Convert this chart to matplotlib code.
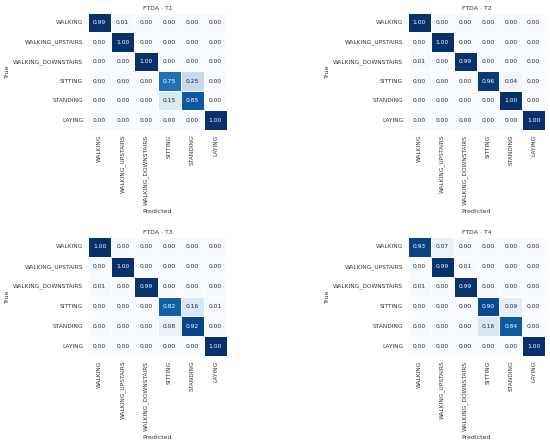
import matplotlib
matplotlib.use("Agg")
import matplotlib.pyplot as plt
import numpy as np
import seaborn as sns

labels = ["WALKING", "WALKING_UPSTAIRS", "WALKING_DOWNSTAIRS",
          "SITTING", "STANDING", "LAYING"]
titles = ["FTDA · T1", "FTDA · T2", "FTDA · T3", "FTDA · T4"]

cm_t1 = [[0.99, 0.01, 0.00, 0.00, 0.00, 0.00],
         [0.00, 1.00, 0.00, 0.00, 0.00, 0.00],
         [0.00, 0.00, 1.00, 0.00, 0.00, 0.00],
         [0.00, 0.00, 0.00, 0.75, 0.25, 0.00],
         [0.00, 0.00, 0.00, 0.15, 0.85, 0.00],
         [0.00, 0.00, 0.00, 0.00, 0.00, 1.00]]
cm_t2 = [[1.00, 0.00, 0.00, 0.00, 0.00, 0.00],
         [0.00, 1.00, 0.00, 0.00, 0.00, 0.00],
         [0.01, 0.00, 0.99, 0.00, 0.00, 0.00],
         [0.00, 0.00, 0.00, 0.96, 0.04, 0.00],
         [0.00, 0.00, 0.00, 0.00, 1.00, 0.00],
         [0.00, 0.00, 0.00, 0.00, 0.00, 1.00]]
cm_t3 = [[1.00, 0.00, 0.00, 0.00, 0.00, 0.00],
         [0.00, 1.00, 0.00, 0.00, 0.00, 0.00],
         [0.01, 0.00, 0.99, 0.00, 0.00, 0.00],
         [0.00, 0.00, 0.00, 0.82, 0.16, 0.01],
         [0.00, 0.00, 0.00, 0.08, 0.92, 0.00],
         [0.00, 0.00, 0.00, 0.00, 0.00, 1.00]]
cm_t4 = [[0.93, 0.07, 0.00, 0.00, 0.00, 0.00],
         [0.00, 0.99, 0.01, 0.00, 0.00, 0.00],
         [0.01, 0.00, 0.99, 0.00, 0.00, 0.00],
         [0.00, 0.00, 0.00, 0.90, 0.09, 0.00],
         [0.00, 0.00, 0.00, 0.16, 0.84, 0.00],
         [0.00, 0.00, 0.00, 0.00, 0.00, 1.00]]

W, H = 550, 444
fig = plt.figure(figsize=(W / 100, H / 100), dpi=100)
txt = "0.2"

# axes boxes in pixels: left, top, width, height
boxes = [(88, 13, 139, 117), (408, 13, 137, 117),
         (88, 237, 139, 119), (408, 237, 137, 119)]

for cm, title, (x, y, w, h) in zip([cm_t1, cm_t2, cm_t3, cm_t4], titles, boxes):
    ax = fig.add_axes([x / W, 1 - (y + h) / H, w / W, h / H])
    sns.heatmap(np.array(cm), annot=True, fmt=".2f", cmap="Blues",
                vmin=0, vmax=1, cbar=False, linewidths=0.5, linecolor="white",
                xticklabels=labels, yticklabels=labels, ax=ax,
                annot_kws={"fontsize": 4.3})
    ax.set_title(title, fontsize=4.4, pad=2, color=txt)
    ax.set_xlabel("Predicted", fontsize=4.5, labelpad=3, color=txt)
    ax.set_ylabel("True", fontsize=4.5, labelpad=2, color=txt)
    ax.tick_params(axis="both", length=0, labelsize=4.25, pad=3.5,
                   labelcolor=txt)
    plt.setp(ax.get_xticklabels(), rotation=90)
    plt.setp(ax.get_yticklabels(), rotation=0)

fig.savefig("out.png", dpi=100)
